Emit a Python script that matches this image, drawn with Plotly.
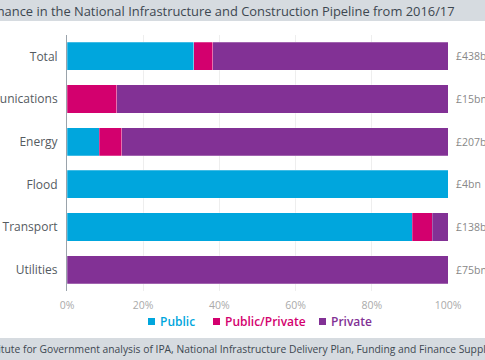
import plotly.graph_objects as go

categories = ["Total", "Communications", "Energy", "Flood", "Transport", "Utilities"]
public = [33.3, 0, 8.5, 100, 90.6, 0]
public_private = [5.0, 13.0, 5.9, 0, 5.3, 0]
private = [61.7, 87.0, 85.6, 0, 4.1, 100]
totals = ["£438bn", "£15bn", "£207bn", "£4bn", "£138bn", "£75bn"]
tick_vals = [0, 20, 40, 60, 80, 100]
tick_text = ["0%", "20%", "40%", "60%", "80%", "100%"]
series_names = ["Public", "Public/Private", "Private"]

title_text = "Public and private finance in the National Infrastructure and Construction Pipeline from 2016/17"
source_text = "Source: Institute for Government analysis of IPA, National Infrastructure Delivery Plan, Funding and Finance Supplement"

colors = {"Public": "#00a6dd", "Public/Private": "#d3006e", "Private": "#823195"}

fig = go.Figure()
for name, vals in zip(series_names, [public, public_private, private]):
    fig.add_trace(go.Bar(
        y=categories, x=vals, orientation="h", name=name, showlegend=False,
        marker=dict(color=colors[name], line=dict(color="rgba(255,255,255,0.5)", width=0.5)),
    ))

W, H = 485, 360
L, R, T, B = 67, 37, 35, 69
pw, ph = W - L - R, H - T - B

def px_x(p):
    return (p - L) / pw

def px_y(p):
    return (H - B - p) / ph

shapes = [
    dict(type="rect", xref="paper", yref="paper", x0=px_x(-5), x1=px_x(W + 5),
         y0=px_y(21), y1=px_y(-5), fillcolor="#d6dbe0", line=dict(width=0), layer="below"),
    dict(type="rect", xref="paper", yref="paper", x0=px_x(-5), x1=px_x(W + 5),
         y0=px_y(H + 5), y1=px_y(338), fillcolor="#d6dbe0", line=dict(width=0), layer="below"),
]

annotations = [
    dict(text=title_text, xref="paper", yref="paper", x=px_x(457), y=px_y(10.5),
         xanchor="right", yanchor="middle", showarrow=False,
         font=dict(family="Open Sans", size=12.9, color="#3d4750")),
    dict(text=source_text, xref="paper", yref="paper", x=px_x(-60), y=px_y(349),
         xanchor="left", yanchor="middle", showarrow=False,
         font=dict(family="Open Sans", size=10.3, color="#3d4750")),
]
for c, t in zip(categories, totals):
    annotations.append(dict(text=t, xref="paper", yref="y", x=1, y=c, xanchor="left",
                            xshift=6, showarrow=False,
                            font=dict(family="Open Sans", size=10.5, color="#888888")))

# manual legend (small squares + coloured labels)
legend_marker_px = [151.5, 216.5, 322.5]
legend_y_px = 321.5
for name, mx in zip(series_names, legend_marker_px):
    shapes.append(dict(type="rect", xref="paper", yref="paper",
                       x0=px_x(mx - 3.5), x1=px_x(mx + 3.5),
                       y0=px_y(legend_y_px + 3.5), y1=px_y(legend_y_px - 3.5),
                       fillcolor=colors[name], line=dict(width=0)))
    annotations.append(dict(text=name, xref="paper", yref="paper", x=px_x(mx + 6),
                            y=px_y(legend_y_px), xanchor="left", yanchor="middle",
                            showarrow=False,
                            font=dict(family="Open Sans", size=12, weight=600,
                                      color=colors[name])))

fig.update_layout(
    width=W, height=H,
    margin=dict(l=L, r=R, t=T, b=B, autoexpand=False),
    barmode="stack", bargap=0.34,
    paper_bgcolor="white", plot_bgcolor="white",
    font=dict(family="Open Sans"),
    shapes=shapes, annotations=annotations,
    xaxis=dict(range=[0, 100], tickvals=tick_vals, ticktext=tick_text,
               showgrid=True, gridcolor="#eeeeee", gridwidth=1, zeroline=False,
               showline=False, ticks="", ticklabelstandoff=6, fixedrange=True,
               tickfont=dict(family="Open Sans", size=10.5, color="#aaaaaa")),
    yaxis=dict(categoryorder="array", categoryarray=categories, autorange="reversed",
               showline=True, linecolor="#9aa3ab", linewidth=1, ticks="",
               ticklabelstandoff=6, showgrid=False, fixedrange=True,
               tickfont=dict(family="Open Sans", size=12, color="#555b61")),
    showlegend=False,
)

fig.write_html("out.html", config={"displayModeBar": False},
               post_script="document.body.style.margin='0';document.body.style.overflow='hidden';")
